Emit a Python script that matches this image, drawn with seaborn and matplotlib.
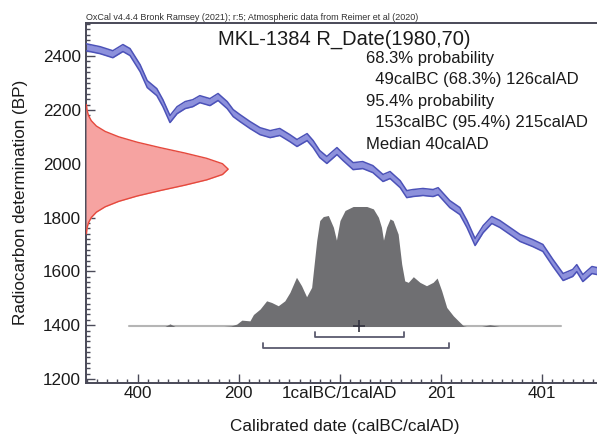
import matplotlib
matplotlib.use("Agg")
import matplotlib.pyplot as plt
from matplotlib.ticker import MultipleLocator, FixedLocator
import numpy as np
import pandas as pd
import seaborn as sns

# calibration curve (IntCal20 section)
cal_year = [-502, -474, -449, -429, -415, -395, -381, -362, -350, -336,
            -322, -306, -291, -277, -257, -241, -223, -211, -198, -178,
            -158, -138, -119, -99, -85, -65, -53, -40, -26, -6,
            6, 26, 45, 65, 85, 99, 119, 132, 144, 164,
            184, 194, 217, 237, 251, 267, 283, 300, 316, 336,
            356, 381, 401, 421, 441, 460, 468, 480, 498, 508]
cal_bp = [2433, 2422, 2407, 2430, 2415, 2355, 2296, 2266, 2225, 2166,
          2199, 2218, 2225, 2240, 2229, 2248, 2218, 2188, 2170, 2144,
          2121, 2110, 2118, 2095, 2077, 2099, 2073, 2036, 2014, 2047,
          2025, 1991, 1995, 1980, 1947, 1958, 1924, 1887, 1891, 1895,
          1891, 1898, 1850, 1824, 1776, 1709, 1757, 1791, 1776, 1750,
          1724, 1705, 1687, 1631, 1579, 1594, 1612, 1575, 1605, 1601]
cal_sigma = 13

# R_Date(1980,70) on the radiocarbon axis
red_bp = [1740, 1760, 1780, 1800, 1820, 1840, 1860, 1880, 1900, 1920, 1940, 1960, 1980,
          2000, 2020, 2040, 2060, 2080, 2100, 2120, 2140, 2160, 2180, 2200, 2220]
red_dens = [0.003, 0.007, 0.017, 0.037, 0.073, 0.135, 0.230, 0.360, 0.520, 0.693, 0.849, 0.960, 1.0,
            0.960, 0.849, 0.693, 0.520, 0.360, 0.230, 0.135, 0.073, 0.037, 0.017, 0.007, 0.003]

# calibrated distribution
post_year = [-417, -346, -336, -326, -230, -215, -204, -194, -178, -171,
             -158, -145, -135, -122, -109, -99, -86, -76, -66, -56,
             -46, -40, -33, -23, -13, -7, 0, 10, 26, 53,
             66, 76, 82, 86, 92, 99, 105, 115, 122, 128,
             135, 145, 158, 171, 184, 192, 201, 211, 224, 234,
             244, 250, 280, 296, 315, 437]
post_prob = [0, 0, 0.022, 0, 0, 0.005, 0.02, 0.053, 0.047, 0.10,
             0.145, 0.214, 0.20, 0.173, 0.214, 0.284, 0.41, 0.34, 0.248, 0.326,
             0.716, 0.883, 0.916, 0.925, 0.827, 0.72, 0.883, 0.967, 1.0, 1.0,
             0.98, 0.91, 0.827, 0.72, 0.827, 0.897, 0.883, 0.77, 0.52, 0.38,
             0.368, 0.415, 0.368, 0.34, 0.368, 0.404, 0.298, 0.159, 0.089, 0.047,
             0.006, 0, 0, 0.015, 0, 0]

hpd68 = (-49, 126)
hpd95 = (-153, 215)
mean_year = 38

x_ticks = [-400, -200, 0, 200, 400]
x_labels = ["400", "200", "1calBC/1calAD", "201", "401"]
y_ticks = [1200, 1400, 1600, 1800, 2000, 2200, 2400]

info_lines = ["68.3% probability", "  49calBC (68.3%) 126calAD",
              "95.4% probability", "  153calBC (95.4%) 215calAD",
              "Median 40calAD"]

sns.set_theme(style="ticks")
plt.rcParams["font.family"] = ["Liberation Sans", "DejaVu Sans"]

AX_COL = "#4a4a58"
W, H = 597, 434
fig = plt.figure(figsize=(W / 100, H / 100), dpi=100)
ax = fig.add_axes([86 / W, 1 - 383 / H, 511 / W, 360 / H])
ax.set_xlim(-502, 508)
ax.set_ylim(1185, 2523)

# calibration curve band
cal = pd.DataFrame({"year": cal_year, "bp": cal_bp})
cal["lo"] = cal["bp"] - cal_sigma
cal["hi"] = cal["bp"] + cal_sigma
ax.fill_between(cal["year"], cal["lo"], cal["hi"], color="#8d91dc", lw=0, zorder=2)
for col in ["hi", "lo"]:
    sns.lineplot(data=cal, x="year", y=col, ax=ax, color="#4c52b8", lw=1.1,
                 zorder=3, solid_joinstyle="round")

# radiocarbon date on the y axis
red_x = -502 + np.array(red_dens) * 281
ax.fill_betweenx(red_bp, -502, red_x, color="#f6a3a1", lw=0, zorder=4)
ax.plot(red_x, red_bp, color="#e5493d", lw=1.0, zorder=5)

# calibrated distribution on the x axis
base = 1395
ax.plot([post_year[0], post_year[-1]], [base, base], color="#b5b5b5", lw=1.5, zorder=4)
post_top = base + np.array(post_prob) * 446
ax.fill_between(post_year, base, post_top, color="#6f6f72", lw=0, zorder=5)
ax.plot(mean_year, base, marker="+", color="#333340", ms=8, mew=1.2, zorder=6)

# hpd range bars
for (x0, x1), yb in [(hpd68, 1357), (hpd95, 1314)]:
    ax.plot([x0, x0, x1, x1], [yb + 18, yb, yb, yb + 18], color="#5a5a6e", lw=1.3, zorder=4)

ax.xaxis.set_major_locator(FixedLocator(x_ticks))
ax.set_xticklabels(x_labels)
ax.xaxis.set_minor_locator(MultipleLocator(20))
ax.yaxis.set_major_locator(FixedLocator(y_ticks))
ax.yaxis.set_minor_locator(MultipleLocator(20))
ax.tick_params(which="both", direction="in", color=AX_COL, width=1.0,
               labelsize=12.3, labelcolor="#1a1a1a")
ax.tick_params(which="major", length=6.5)
ax.tick_params(which="minor", length=3)
ax.tick_params(axis="y", pad=3.5)
ax.tick_params(axis="x", pad=2)
ax.set_xlabel("")
ax.set_ylabel("")
for side in ["left", "bottom", "top"]:
    ax.spines[side].set_color(AX_COL)
    ax.spines[side].set_linewidth(1.4)
ax.spines["right"].set_visible(False)

# texts
fig.text(86 / W, 1 - 20 / H,
         "OxCal v4.4.4 Bronk Ramsey (2021); r:5; Atmospheric data from Reimer et al (2020)",
         fontsize=6.5, color="#333333", ha="left", va="baseline")
fig.text(344.5 / W, 1 - 45 / H, "MKL-1384 R_Date(1980,70)", fontsize=14.5,
         color="#1a1a1a", ha="center", va="baseline")
for line, yb in zip(info_lines, [63, 84, 106, 127, 149]):
    fig.text(366 / W, 1 - yb / H, line, fontsize=12, color="#1a1a1a",
             ha="left", va="baseline")
fig.text(345 / W, 1 - 431 / H, "Calibrated date (calBC/calAD)", fontsize=12.3,
         color="#1a1a1a", ha="center", va="baseline")
fig.text(25 / W, 1 - 202 / H, "Radiocarbon determination (BP)", fontsize=12.3,
         color="#1a1a1a", ha="center", va="baseline", rotation=90,
         rotation_mode="anchor")

fig.savefig("out.png", dpi=100)
